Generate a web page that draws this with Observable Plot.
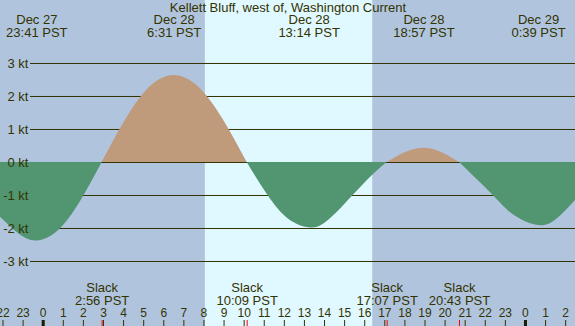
<!DOCTYPE html>
<html>
<head>
<meta charset="utf-8">
<script src="https://cdn.jsdelivr.net/npm/d3@7"></script>
<script src="https://cdn.jsdelivr.net/npm/@observablehq/plot@0.6"></script>
<style>
  html, body { margin: 0; padding: 0; background: #b0c4de; }
  svg { display: block; }
</style>
</head>
<body>
<script>
// Hours relative to Dec 28 00:00 PST; current speed in knots (+ ebb, - flood)
const times  = [-2.125, -1.2, -0.317, 0.767, 1.85, 2.933, 4.13, 5.32, 6.517, 7.73, 8.94, 10.15,
                11.18, 12.2, 13.233, 14.0, 14.96, 16.12, 17.117,
                17.73, 18.34, 18.95, 19.54, 20.13, 20.717,
                22.4, 23.43, 24.65, 25.58, 26.49];
const speeds = [-1.66, -2.17, -2.38, -2.06, -1.19, 0, 1.32, 2.29, 2.64, 2.29, 1.32, 0,
                -0.99, -1.71, -1.98, -1.85, -1.3, -0.55, 0,
                0.215, 0.37, 0.43, 0.37, 0.215, 0,
                -1.0, -1.6, -1.91, -1.71, -1.15];

const title = "Kellett Bluff, west of, Washington Current";
const eventTimes = [-0.317, 6.517, 13.233, 18.95, 24.65];
const eventDates = ["Dec 27", "Dec 28", "Dec 28", "Dec 28", "Dec 29"];
const eventClock = ["23:41 PST", "6:31 PST", "13:14 PST", "18:57 PST", "0:39 PST"];
const slackTimes = [2.933, 10.15, 17.117, 20.717];
const slackClock = ["2:56 PST", "10:09 PST", "17:07 PST", "20:43 PST"];
const sunrise = 8.07, sunset = 16.4;
const hourTicks = d3.range(-2, 27);
const midnights = [0, 24];
const ktTicks = [-3, -2, -1, 0, 1, 2, 3];

const ink = "#333300";
const ebbColor = "#bf9b7b";
const floodColor = "#519571";

// split the curve into humps between slack points
const pts = [];
let seg = 0;
times.forEach((t, i) => {
  pts.push({t, v: speeds[i], seg});
  if (speeds[i] === 0 && i > 0 && i < times.length - 1) {
    seg++;
    pts.push({t, v: 0, seg});
  }
});
const segSign = {};
pts.forEach(p => { segSign[p.seg] = (segSign[p.seg] || 0) + p.v; });
pts.forEach(p => { p.color = segSign[p.seg] > 0 ? ebbColor : floodColor; });

const plot = Plot.plot({
  width: 575,
  height: 326,
  margin: 0,
  style: {background: "#b0c4de", fontFamily: "'Liberation Sans', Arial, sans-serif", fontSize: "13px"},
  x: {domain: [-2.125, 26.49], axis: null},
  y: {domain: [-4.970, 4.909], axis: null},
  color: {type: "identity"},
  marks: [
    Plot.rect([[sunrise, sunset]], {x1: d => d[0], x2: d => d[1], fill: "#e0f8ff"}),
    Plot.ruleY(ktTicks, {y: d => d, insetLeft: 30, stroke: ink}),
    Plot.areaY(pts, {x: "t", y: "v", z: "seg", fill: "color", curve: "natural"}),
    Plot.ruleX(hourTicks, {x: d => d, insetTop: 320, stroke: ink}),
    Plot.ruleX(midnights, {x: d => d, insetTop: 320, stroke: "#1a1a00", strokeWidth: 3}),
    Plot.ruleX(slackTimes, {x: d => d, insetTop: 320, stroke: "#ff0000"}),
    Plot.text(ktTicks, {y: d => d, text: d => `${d} kt`, frameAnchor: "left", dx: 28, textAnchor: "end", fill: ink, fontSize: 13}),
    Plot.text([title], {text: d => d, frameAnchor: "top", lineAnchor: "bottom", dy: 11, fill: ink, fontSize: 13}),
    Plot.text(eventTimes, {x: d => d, text: (d, i) => `${eventDates[i]}\n${eventClock[i]}`, frameAnchor: "top", lineAnchor: "bottom", dy: 36, lineHeight: 0.93, fill: ink, fontSize: 13}),
    Plot.text(slackTimes, {x: d => d, text: (d, i) => `Slack\n${slackClock[i]}`, frameAnchor: "bottom", lineAnchor: "bottom", dy: -22, lineHeight: 1, fill: ink, fontSize: 13}),
    Plot.text(hourTicks, {x: d => d, text: d => String((d + 24) % 24), frameAnchor: "bottom", lineAnchor: "bottom", dy: -10, fill: ink, fontSize: 12})
  ]
});
document.body.appendChild(plot);
</script>
</body>
</html>
